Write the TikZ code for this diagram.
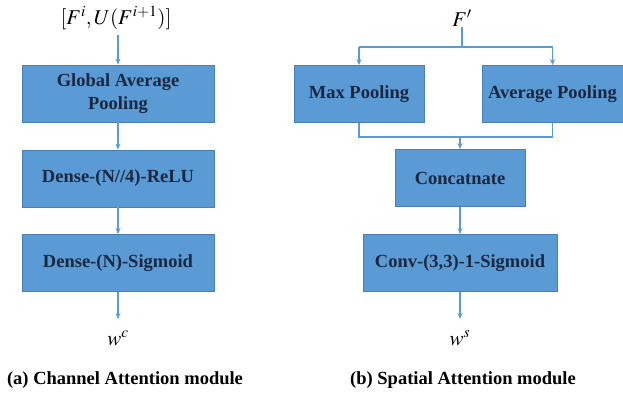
\documentclass[tikz,border=0pt]{standalone}
\usepackage{mathptmx}
\usepackage{fontspec}
\setmainfont{Liberation Serif}
\usetikzlibrary{arrows.meta}
\definecolor{boxfill}{HTML}{5B9BD5}
\definecolor{boxedge}{HTML}{4A7FB5}
\definecolor{boxtext}{HTML}{1A2740}
\definecolor{arr}{HTML}{5B9BD5}
\tikzset{
  x=1pt,y=1pt,
  blk/.style={draw=boxedge,line width=0.8pt,fill=boxfill,text=boxtext,font=\bfseries\fontsize{18.5}{23}\selectfont,align=center,inner sep=0pt,minimum height=57pt},
  flow/.style={draw=arr,line width=1.5pt,-{Stealth[length=6pt,width=5pt]}},
  wire/.style={draw=arr,line width=1.5pt},
  lbl/.style={font=\fontsize{21}{24}\selectfont,inner sep=1pt},
  captext/.style={font=\bfseries\fontsize{18.5}{20}\selectfont,inner sep=0pt}
}
\begin{document}
\begin{tikzpicture}
\useasboundingbox (0,0) rectangle (623,-396);
% left: channel attention
\node[lbl] (inL) at (116,-18) {$[F^{i},U(F^{i+1})]$};
\node[blk,minimum width=192pt] (gap) at (118,-93.5) {Global Average\\Pooling};
\node[blk,minimum width=192pt] (d1) at (118,-178.5) {Dense-(N//4)-ReLU};
\node[blk,minimum width=192pt] (d2) at (118,-263) {Dense-(N)-Sigmoid};
\node[lbl] (wc) at (118,-338) {$w^{c}$};
\node[captext] (capa) at (125,-380) {(a) Channel Attention module};
\coordinate (inLb) at (118,-35);
\coordinate (wct) at (118,-319);
\draw[flow] (inLb) -- (gap.north);
\draw[flow] (gap.south) -- (d1.north);
\draw[flow] (d1.south) -- (d2.north);
\draw[flow] (d2.south) -- (wct);
% right: spatial attention
\node[lbl] (inR) at (462,-18) {$F'$};
\node[blk,minimum width=130pt] (maxp) at (359,-94) {Max Pooling};
\node[blk,minimum width=141pt] (avgp) at (552.5,-94) {Average Pooling};
\node[blk,minimum width=130pt] (cat) at (460,-178) {Concatnate};
\node[blk,minimum width=194pt] (conv) at (460,-263) {Conv-(3,3)-1-Sigmoid};
\node[lbl] (ws) at (460,-338) {$w^{s}$};
\node[captext] (capb) at (463,-380) {(b) Spatial Attention module};
\coordinate (split) at (462,-47);
\coordinate (join) at (460,-137);
\coordinate (wst) at (460,-319);
\draw[wire] (inR.south) -- (split);
\draw[wire] (maxp.north |- split) -- (avgp.north |- split);
\draw[flow] (maxp.north |- split) -- (maxp.north);
\draw[flow] (avgp.north |- split) -- (avgp.north);
\draw[wire] (maxp.south) -- (maxp.south |- join) -- (avgp.south |- join) -- (avgp.south);
\draw[flow] (join) -- (cat.north);
\draw[flow] (cat.south) -- (conv.north);
\draw[flow] (conv.south) -- (wst);
\end{tikzpicture}
\end{document}
